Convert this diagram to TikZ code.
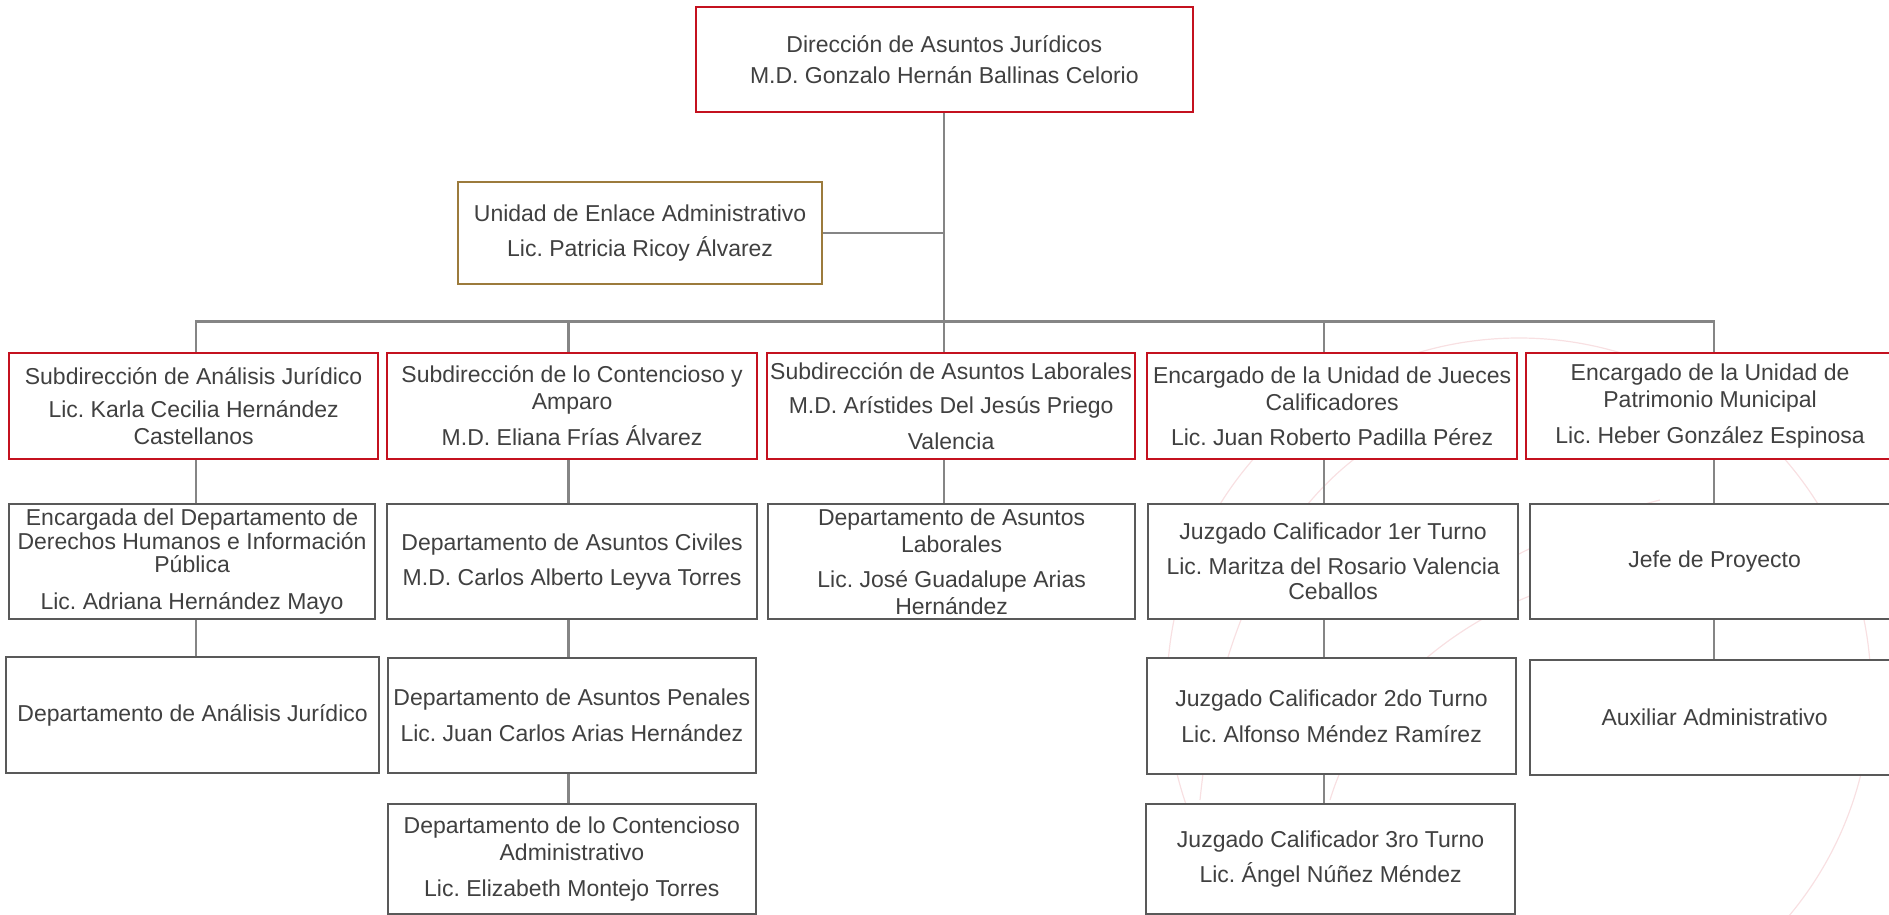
\documentclass[tikz,border=0pt]{standalone}
\usepackage{fontspec}
\setmainfont{Liberation Sans}
\usetikzlibrary{backgrounds}
\frenchspacing
\definecolor{boxred}{HTML}{C4111F}
\definecolor{boxgray}{HTML}{595959}
\definecolor{boxgold}{HTML}{9C7B3C}
\definecolor{conngray}{HTML}{858585}
\definecolor{txt}{HTML}{404040}
\definecolor{wmark}{HTML}{F8E0E2}
\tikzset{
  box/.style={draw, fill=white, line width=2.2pt, inner sep=0pt, align=center,
    text=txt, font=\fontsize{23}{26.7}\selectfont\frenchspacing, anchor=north west},
  redbox/.style={box, draw=boxred},
  graybox/.style={box, draw=boxgray},
  goldbox/.style={box, draw=boxgold},
  conn/.style={draw=conngray, line width=2.2pt},
  wm/.style={draw=wmark, line width=1.2pt},
}
\begin{document}
\begin{tikzpicture}[x=1pt,y=-1pt]
\useasboundingbox (0,0) rectangle (1889,915);
% top
\node[redbox, minimum width=497.5, minimum height=105] (top) at (694.5,6)
  {Dirección de Asuntos Jurídicos\\[5pt]M.D. Gonzalo Hernán Ballinas Celorio};
\node[goldbox, minimum width=364, minimum height=102] (uni) at (457,181)
  {Unidad de Enlace Administrativo\\[7.6pt]Lic. Patricia Ricoy Álvarez};
% row 1
\node[redbox, minimum width=369, minimum height=106] (r1a) at (8,352)
  {Subdirección de Análisis Jurídico\\[6.6pt]Lic. Karla Cecilia Hernández\\Castellanos};
\node[redbox, minimum width=370, minimum height=106] (r1b) at (386,352)
  {Subdirección de lo Contencioso y\\Amparo\\[9.6pt]M.D. Eliana Frías Álvarez};
\node[redbox, minimum width=368, minimum height=106] (r1c) at (766,352)
  {Subdirección de Asuntos Laborales\\[7.7pt]M.D. Arístides Del Jesús Priego\\[8.9pt]Valencia};
\node[redbox, minimum width=370, minimum height=106] (r1d) at (1146,352)
  {Encargado de la Unidad de Jueces\\Calificadores\\[8.3pt]Lic. Juan Roberto Padilla Pérez};
\node[redbox, minimum width=368, minimum height=106] (r1e) at (1525,352)
  {Encargado de la Unidad de\\Patrimonio Municipal\\[9pt]Lic. Heber González Espinosa};
% row 2
\node[graybox, minimum width=366, minimum height=115] (r2a) at (8,503)
  {Encargada del Departamento de\\[-3pt]Derechos Humanos e Información\\[-3pt]Pública\\[10pt]Lic. Adriana Hernández Mayo};
\node[graybox, minimum width=370, minimum height=115] (r2b) at (386,503)
  {Departamento de Asuntos Civiles\\[8.3pt]M.D. Carlos Alberto Leyva Torres};
\node[graybox, minimum width=367, minimum height=115] (r2c) at (767,503)
  {Departamento de Asuntos\\Laborales\\[8.3pt]Lic. José Guadalupe Arias\\Hernández};
\node[graybox, minimum width=370, minimum height=115] (r2d) at (1147,503)
  {Juzgado Calificador 1er Turno\\[7.6pt]Lic. Maritza del Rosario Valencia\\[-1pt]Ceballos};
\node[graybox, minimum width=369, minimum height=115] (r2e) at (1529,503)
  {Jefe de Proyecto};
% row 3
\node[graybox, minimum width=373, minimum height=116] (r3a) at (5,656)
  {Departamento de Análisis Jurídico};
\node[graybox, minimum width=368.5, minimum height=115] (r3b) at (386.5,657)
  {Departamento de Asuntos Penales\\[9pt]Lic. Juan Carlos Arias Hernández};
\node[graybox, minimum width=369, minimum height=116] (r3d) at (1146,657)
  {Juzgado Calificador 2do Turno\\[9pt]Lic. Alfonso Méndez Ramírez};
\node[graybox, minimum width=369, minimum height=115] (r3e) at (1529,659)
  {Auxiliar Administrativo};
% row 4
\node[graybox, minimum width=368.5, minimum height=110] (r4b) at (386.5,803)
  {Departamento de lo Contencioso\\Administrativo\\[9pt]Lic. Elizabeth Montejo Torres};
\node[graybox, minimum width=369, minimum height=110] (r4d) at (1145,803)
  {Juzgado Calificador 3ro Turno\\[9pt]Lic. Ángel Núñez Méndez};
% connector guide coordinates
\coordinate (xa) at (196,0);
\coordinate (xb) at (568.5,0);
\coordinate (xc) at (943.7,0);
\coordinate (xd) at (1324,0);
\coordinate (xe) at (1714,0);
\coordinate (bus) at (0,321.5);
\begin{scope}[on background layer]
  % faint watermark
  \draw[wm] (1519,690) circle[radius=352];
  \draw[wm] (1200,800) .. controls (1220,600) and (1300,480) .. (1400,430);
  \draw[wm] (1330,800) .. controls (1360,700) and (1450,620) .. (1560,585);
  \draw[wm] (1440,600) .. controls (1500,560) and (1580,520) .. (1660,500);
  % connectors
  \draw[conn] (top.south -| xc) -- (r1c.north -| xc);
  \draw[conn] (uni.east) -- (uni.east -| xc);
  \draw[conn] (r1a.north -| xa) |- (bus -| xe) -- (r1e.north -| xe);
  \draw[conn] (bus -| xb) -- (r1b.north -| xb);
  \draw[conn] (bus -| xd) -- (r1d.north -| xd);
  \draw[conn] (r1a.south -| xa) -- (r2a.north -| xa);
  \draw[conn] (r2a.south -| xa) -- (r3a.north -| xa);
  \draw[conn] (r1b.south -| xb) -- (r2b.north -| xb);
  \draw[conn] (r2b.south -| xb) -- (r3b.north -| xb);
  \draw[conn] (r3b.south -| xb) -- (r4b.north -| xb);
  \draw[conn] (r1c.south -| xc) -- (r2c.north -| xc);
  \draw[conn] (r1d.south -| xd) -- (r2d.north -| xd);
  \draw[conn] (r2d.south -| xd) -- (r3d.north -| xd);
  \draw[conn] (r3d.south -| xd) -- (r4d.north -| xd);
  \draw[conn] (r1e.south -| xe) -- (r2e.north -| xe);
  \draw[conn] (r2e.south -| xe) -- (r3e.north -| xe);
\end{scope}
\end{tikzpicture}
\end{document}
